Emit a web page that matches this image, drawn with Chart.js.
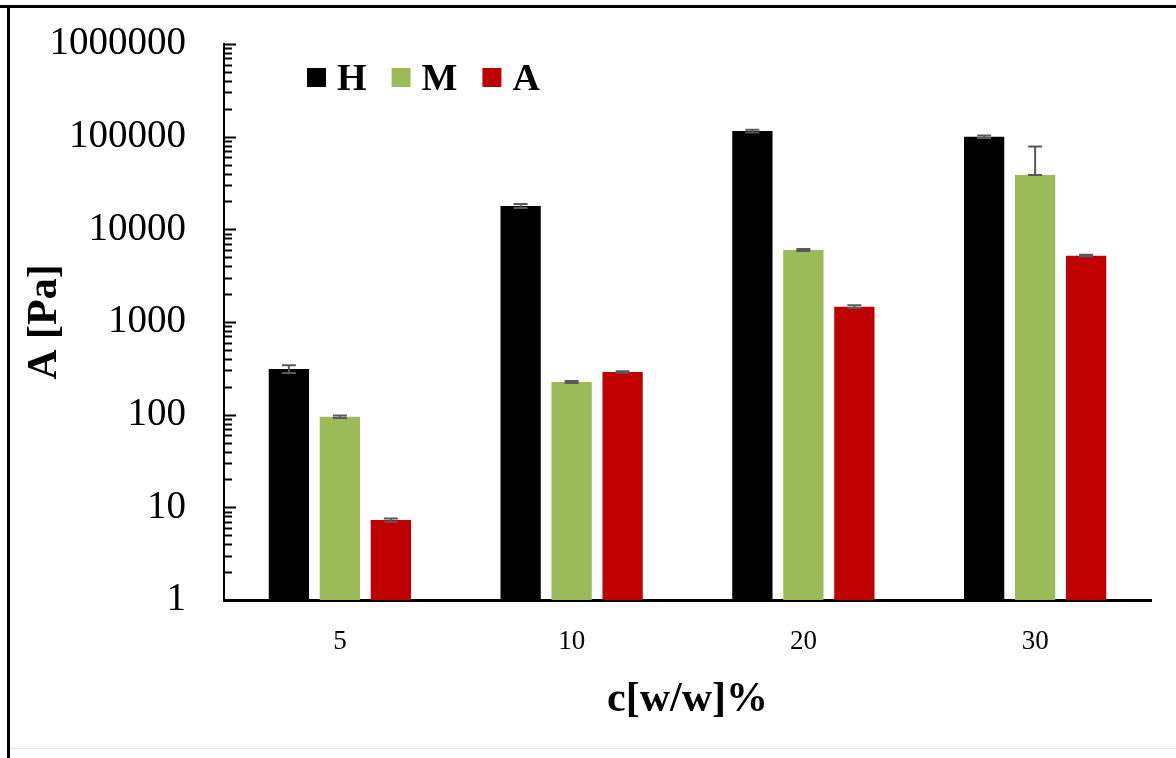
<!DOCTYPE html>
<html>
<head>
<meta charset="utf-8">
<script src="https://cdn.jsdelivr.net/npm/chart.js@4"></script>
<style>
  html, body { margin: 0; padding: 0; background: #fff; }
  #wrap { position: relative; width: 1176px; height: 758px; }
  canvas { display: block; }
</style>
</head>
<body>
<div id="wrap"><canvas id="c" width="1176" height="758"></canvas></div>
<script>
// ---- data ----
const categories = ['5', '10', '20', '30'];
const seriesNames = ['H', 'M', 'A'];
const valuesH = [311, 17850, 115000, 100000];
const valuesM = [95, 225, 5980, 38550];
const valuesA = [7.3, 289, 1462, 5200];
const errPlusH = [30, 900, 4000, 3000];
const errMinusH = [30, 900, 4000, 3000];
const errPlusM = [3, 6, 150, 40000];
const errMinusM = [3, 6, 150, 0];
const errPlusA = [0.3, 6, 50, 120];
const errMinusA = [0.3, 6, 50, 120];
const yTickValues = [1, 10, 100, 1000, 10000, 100000, 1000000];
const yTickLabels = ['1', '10', '100', '1000', '10000', '100000', '1000000'];
const colors = ['#000000', '#9BBB59', '#C00000'];

const serif = "'Liberation Serif', 'Times New Roman', serif";

const frame = {
  id: 'frame',
  beforeDraw(chart) {
    const ctx = chart.ctx;
    ctx.save();
    ctx.fillStyle = '#fff';
    ctx.fillRect(0, 0, chart.width, chart.height);
    ctx.fillStyle = '#000';
    ctx.fillRect(0, 5, chart.width, 3);
    ctx.fillRect(7, 5, 3, chart.height - 5);
    ctx.fillStyle = '#e6e6e6';
    ctx.fillRect(10, chart.height - 10, chart.width - 10, 1);
    ctx.restore();
  }
};

const yMinorTicks = {
  id: 'yMinorTicks',
  afterDraw(chart) {
    const y = chart.scales.y;
    const ctx = chart.ctx;
    const x0 = chart.chartArea.left;
    ctx.save();
    ctx.strokeStyle = '#000';
    ctx.lineWidth = 2;
    for (let i = 0; i < yTickValues.length; i++) {
      const base = yTickValues[i];
      const py = Math.round(y.getPixelForValue(base)) + 0.5;
      if (i > 0) {
        ctx.beginPath(); ctx.moveTo(x0, py); ctx.lineTo(x0 + 12, py); ctx.stroke();
      }
      if (i < yTickValues.length - 1) {
        for (let m = 2; m <= 9; m++) {
          const pm = Math.round(y.getPixelForValue(base * m)) + 0.5;
          ctx.beginPath(); ctx.moveTo(x0, pm); ctx.lineTo(x0 + 8, pm); ctx.stroke();
        }
      }
    }
    ctx.restore();
  }
};

const errorBars = {
  id: 'errorBars',
  afterDatasetsDraw(chart) {
    const ctx = chart.ctx;
    const y = chart.scales.y;
    ctx.save();
    ctx.strokeStyle = '#595959';
    ctx.lineWidth = 2;
    chart.data.datasets.forEach((ds, di) => {
      const meta = chart.getDatasetMeta(di);
      meta.data.forEach((bar, i) => {
        const v = ds.data[i];
        const hi = v + ds.errPlus[i];
        const lo = Math.max(v - ds.errMinus[i], 1e-9);
        const x = bar.x;
        const yHi = y.getPixelForValue(hi);
        const yLo = y.getPixelForValue(lo);
        const cap = 7;
        ctx.beginPath();
        ctx.moveTo(x, yHi); ctx.lineTo(x, yLo);
        ctx.moveTo(x - cap, yHi); ctx.lineTo(x + cap, yHi);
        ctx.moveTo(x - cap, yLo); ctx.lineTo(x + cap, yLo);
        ctx.stroke();
      });
    });
    ctx.restore();
  }
};

const insideLegend = {
  id: 'insideLegend',
  afterDraw(chart) {
    const ctx = chart.ctx;
    ctx.save();
    ctx.font = "bold 38px " + serif;
    ctx.textBaseline = 'middle';
    let x = 307;
    const yc = 78;
    chart.data.datasets.forEach((ds) => {
      ctx.fillStyle = ds.backgroundColor;
      ctx.fillRect(x, yc - 10, 19, 19);
      x += 30;
      ctx.fillStyle = '#000';
      ctx.fillText(ds.label, x, yc + 2);
      x += ctx.measureText(ds.label).width + 25;
    });
    ctx.restore();
  }
};

const datasets = [
  { label: seriesNames[0], data: valuesH, errPlus: errPlusH, errMinus: errMinusH, backgroundColor: colors[0] },
  { label: seriesNames[1], data: valuesM, errPlus: errPlusM, errMinus: errMinusM, backgroundColor: colors[1] },
  { label: seriesNames[2], data: valuesA, errPlus: errPlusA, errMinus: errMinusA, backgroundColor: colors[2] }
].map(d => Object.assign(d, { borderWidth: 0, categoryPercentage: 0.66, barPercentage: 0.79 }));

new Chart(document.getElementById('c'), {
  type: 'bar',
  data: { labels: categories, datasets },
  options: {
    responsive: false,
    animation: false,
    layout: { padding: { top: 44, right: 25, bottom: 0, left: 0 } },
    plugins: { legend: { display: false }, tooltip: { enabled: false } },
    scales: {
      x: {
        grid: { display: false, drawTicks: false },
        border: { display: true, color: '#000', width: 3 },
        ticks: { font: { family: serif, size: 27 }, color: '#000', padding: 26 },
        title: { display: true, text: 'c[w/w]%', font: { family: serif, size: 42, weight: 'bold' }, color: '#000', padding: { top: 33, bottom: 33 } },
        afterFit: s => { s.height = 158; }
      },
      y: {
        type: 'logarithmic',
        min: 1,
        max: 1000000,
        grid: { display: false, drawTicks: false },
        border: { display: true, color: '#000', width: 2 },
        afterBuildTicks: s => { s.ticks = yTickValues.map(v => ({ value: v, major: true })); },
        ticks: {
          font: { family: serif, size: 39 }, color: '#000', padding: 38,
          autoSkip: false,
          callback: (v) => { const i = yTickValues.indexOf(v); return i >= 0 ? yTickLabels[i] : ''; }
        },
        title: { display: true, text: 'A [Pa]', font: { family: serif, size: 42, weight: 'bold' }, color: '#000', padding: { top: 20 } },
        afterFit: s => { s.width = 224; s.paddingTop = 0; s.paddingBottom = 0; }
      }
    }
  },
  plugins: [frame, yMinorTicks, errorBars, insideLegend]
});
</script>
</body>
</html>
